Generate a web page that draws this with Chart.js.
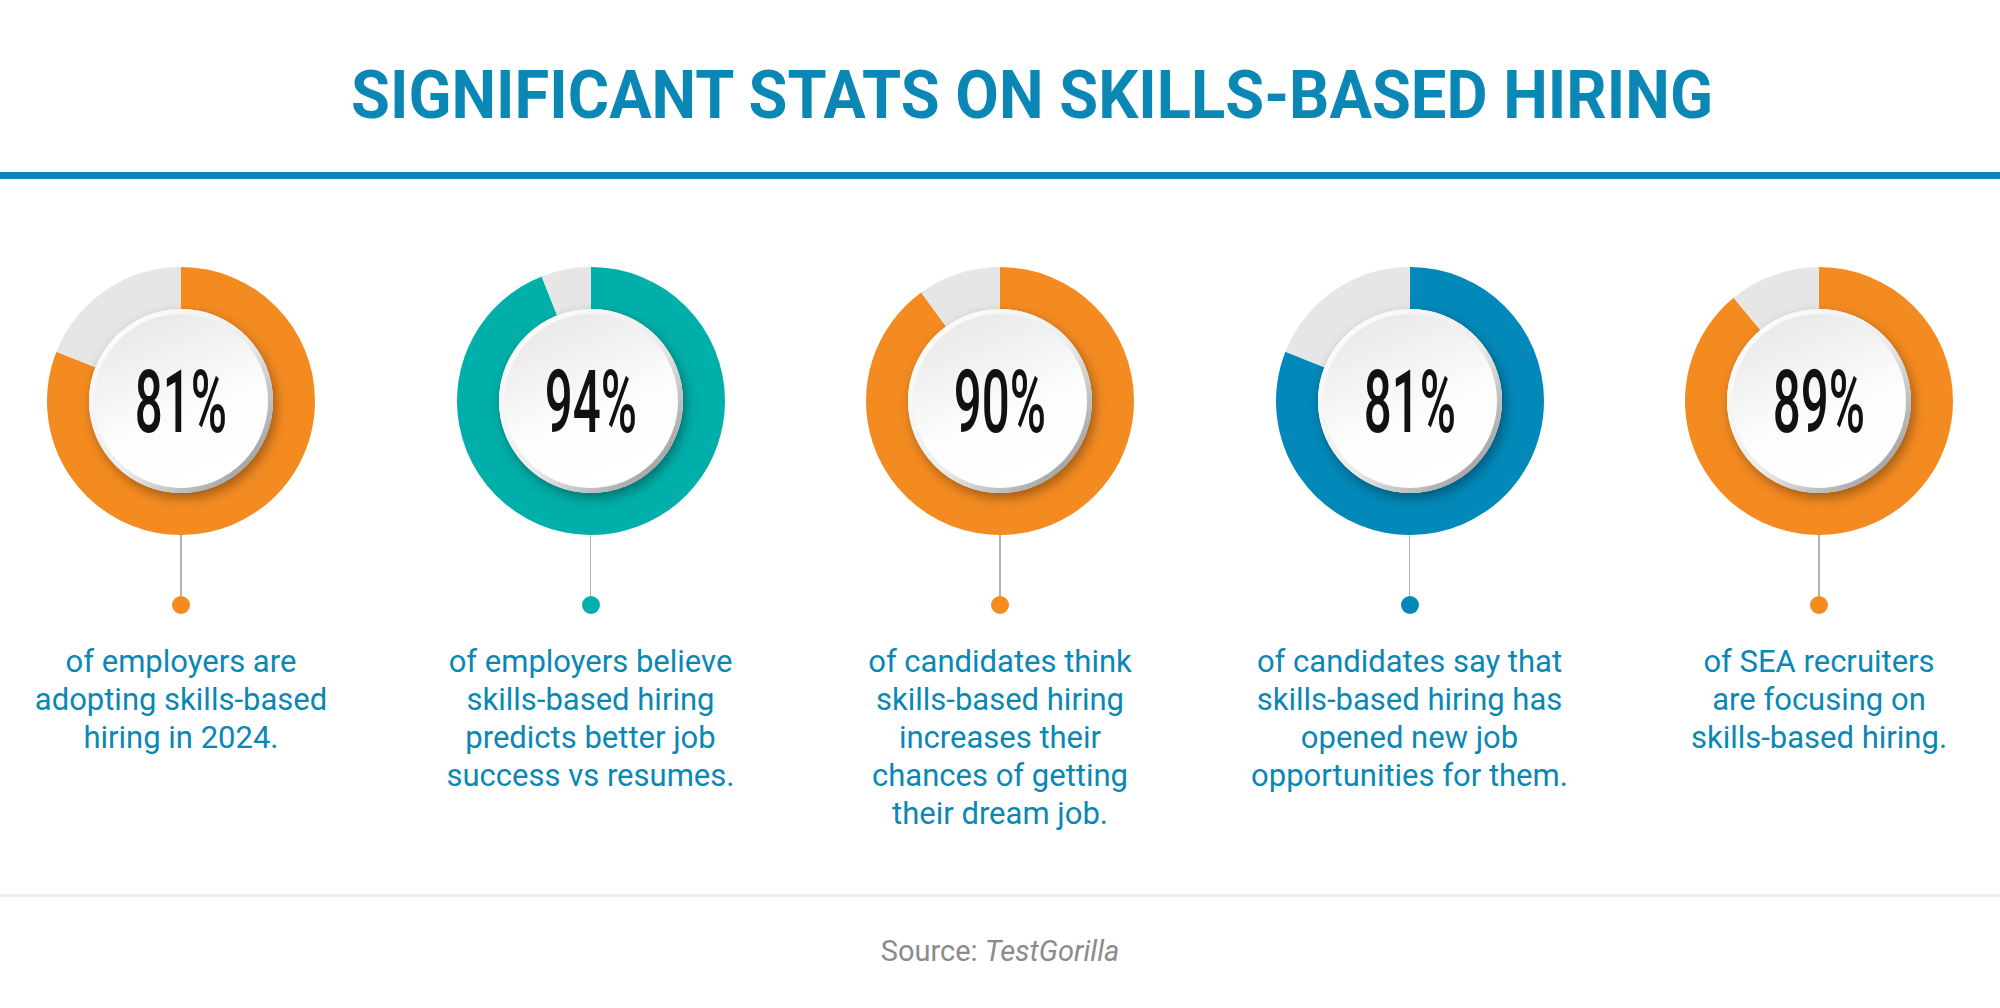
<!DOCTYPE html>
<html>
<head>
<meta charset="utf-8">
<script src="https://cdn.jsdelivr.net/npm/chart.js@4.4.1/dist/chart.umd.min.js"></script>
<style>
html, body { margin: 0; padding: 0; background: #fff; }
body { width: 2000px; height: 1008px; position: relative; overflow: hidden; font-family: Roboto, sans-serif; }
#title { position: absolute; left: 351px; top: 62px; font-size: 67px; font-weight: 700; line-height: 67px;
  color: #0a87b5; white-space: nowrap; transform-origin: 0 0; }
#topRule { position: absolute; left: 0; top: 172px; width: 2000px; height: 7px; background: #0a87b5; }
#bottomRule { position: absolute; left: 0; top: 894px; width: 2000px; height: 3px; background: #eeeeee; }
#source { position: absolute; left: 0; width: 2000px; top: 937px; text-align: center; font-size: 29px; line-height: 29px; color: #8b8b8b; }
.donut { position: absolute; top: 267px; width: 268px; height: 268px; }
.stem { position: absolute; top: 535px; width: 1.5px; height: 62px; background: #b3b3b3; }
.dot { position: absolute; top: 596px; width: 18px; height: 18px; border-radius: 50%; }
.caption { position: absolute; top: 643px; width: 400px; text-align: center; font-size: 31px; line-height: 38px; color: #0a87b5; }
</style>
</head>
<body>
<div id="title">SIGNIFICANT STATS ON SKILLS-BASED HIRING</div>
<div id="topRule"></div>
<div id="stats"></div>
<div id="bottomRule"></div>
<div id="source">Source: <i>TestGorilla</i></div>
<script>
// values
var values = [81, 94, 90, 81, 89];
var captions = [
    ["of employers are", "adopting skills-based", "hiring in 2024."],
    ["of employers believe", "skills-based hiring", "predicts better job", "success vs resumes."],
    ["of candidates think", "skills-based hiring", "increases their", "chances of getting", "their dream job."],
    ["of candidates say that", "skills-based hiring has", "opened new job", "opportunities for them."],
    ["of SEA recruiters", "are focusing on", "skills-based hiring."]
];

var palette = ["#f48b21", "#00afa9", "#f48b21", "#0288b9", "#f48b21"];
var restColor = "#e6e6e6";
var centers = [181, 590.5, 1000, 1409.5, 1819];

// white "button" in the middle of each ring, with the percentage
var centerDisc = {
    id: 'centerDisc',
    afterDatasetsDraw: function(chart, args, opts){
        var arc = chart.getDatasetMeta(0).data[0];
        var x = arc.x, y = arc.y, r = arc.innerRadius;
        var ctx = chart.ctx;
        ctx.save();
        ctx.shadowColor = 'rgba(0,0,0,0.35)';
        ctx.shadowBlur = 12;
        ctx.shadowOffsetX = 3;
        ctx.shadowOffsetY = 5;
        ctx.beginPath();
        ctx.arc(x, y, r, 0, Math.PI * 2);
        ctx.fillStyle = '#dddddd';
        ctx.fill();
        ctx.shadowColor = 'transparent';

        var rim = ctx.createLinearGradient(x - r * 0.7, y - r * 0.7, x + r * 0.7, y + r * 0.7);
        rim.addColorStop(0, '#fbfbfb');
        rim.addColorStop(0.55, '#ececec');
        rim.addColorStop(1, '#a8a8a8');
        ctx.beginPath();
        ctx.arc(x, y, r, 0, Math.PI * 2);
        ctx.fillStyle = rim;
        ctx.fill();

        var r2 = r - 5;
        var face = ctx.createLinearGradient(x - r2 * 0.5, y - r2, x + r2 * 0.3, y + r2);
        face.addColorStop(0, '#e8e8e8');
        face.addColorStop(0.6, '#fdfdfd');
        face.addColorStop(1, '#ffffff');
        ctx.beginPath();
        ctx.arc(x, y, r2, 0, Math.PI * 2);
        ctx.fillStyle = face;
        ctx.fill();

        ctx.font = '500 88px Roboto';
        ctx.fillStyle = '#111111';
        ctx.textAlign = 'center';
        ctx.textBaseline = 'alphabetic';
        ctx.translate(x, y + 31);
        ctx.scale(0.56, 1);
        ctx.fillText(opts.text, 0, 0);
        ctx.restore();
    }
};

var stats = document.getElementById("stats");

values.forEach(function(v, i){
    var cx = centers[i];

    var box = document.createElement("div");
    box.className = "donut";
    box.style.left = (cx - 134) + "px";
    var cnv = document.createElement("canvas");
    cnv.width = 268;
    cnv.height = 268;
    box.appendChild(cnv);
    stats.appendChild(box);

    var stem = document.createElement("div");
    stem.className = "stem";
    stem.style.left = (cx - 0.75) + "px";
    stats.appendChild(stem);

    var dot = document.createElement("div");
    dot.className = "dot";
    dot.style.left = (cx - 9) + "px";
    dot.style.background = palette[i];
    stats.appendChild(dot);

    var cap = document.createElement("div");
    cap.className = "caption";
    cap.style.left = (cx - 200) + "px";
    cap.innerHTML = captions[i].join("<br>");
    stats.appendChild(cap);

    new Chart(cnv, {
        type: 'doughnut',
        data: {
            labels: ["Share", "Rest"],
            datasets: [{
                data: [v, 100 - v],
                backgroundColor: [palette[i], restColor],
                borderWidth: 0,
                hoverOffset: 0
            }]
        },
        options: {
            responsive: false,
            animation: false,
            events: [],
            cutout: 92,
            layout: { padding: 0 },
            plugins: {
                legend: { display: false },
                tooltip: { enabled: false },
                centerDisc: { text: v + "%" }
            }
        },
        plugins: [centerDisc]
    });
});

// stretch the title to the width it has in the picture
var title = document.getElementById("title");
var w = title.getBoundingClientRect().width;
title.style.transform = "scaleX(" + (1362 / w) + ")";
</script>
</body>
</html>
